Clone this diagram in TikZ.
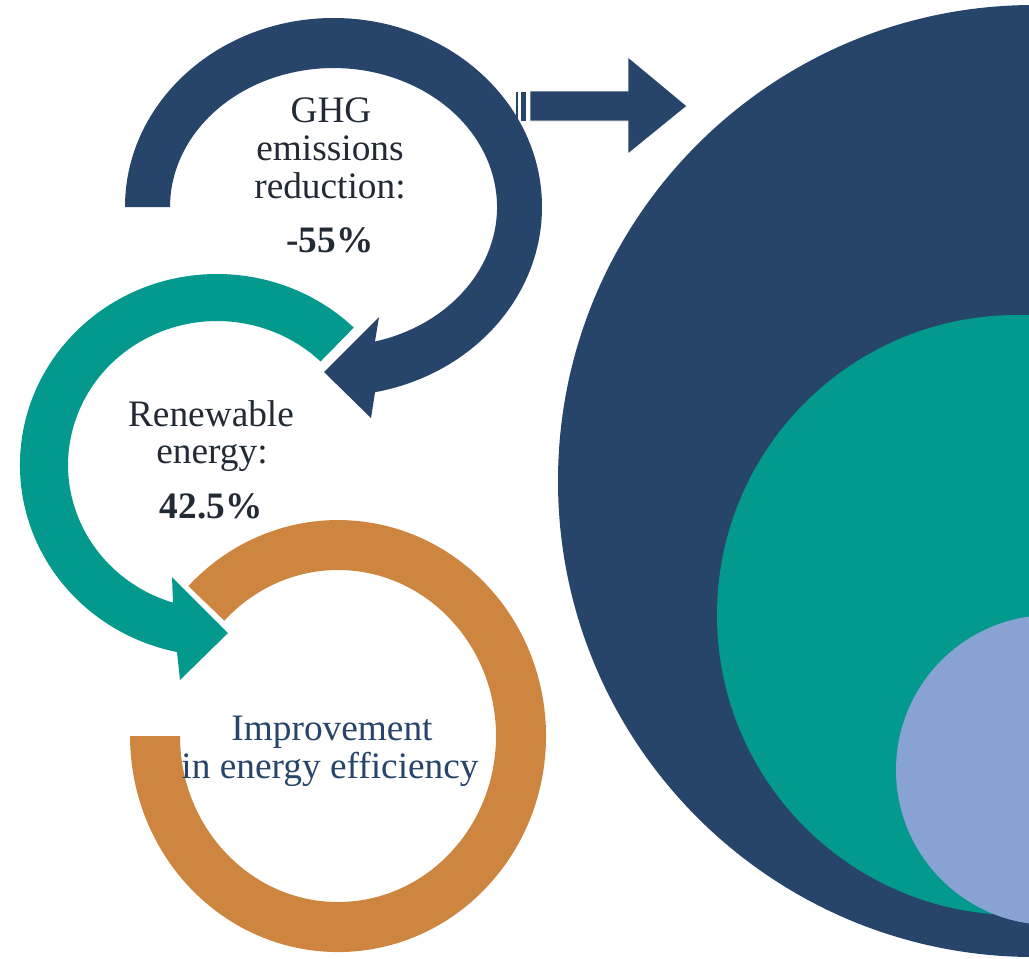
\documentclass[tikz,border=0pt]{standalone}
\usepackage{fontspec}
\setmainfont{Liberation Serif}
\definecolor{navy}{HTML}{27446A}
\definecolor{teal2}{HTML}{03998D}
\definecolor{ochre}{HTML}{CD853F}
\definecolor{sky}{HTML}{87A2D3}
\definecolor{ink}{HTML}{222A35}
\tikzset{
  lbl/.style={font=\fontsize{28}{34}\selectfont, text=ink, inner sep=0pt, anchor=base},
  lblb/.style={lbl, font=\fontsize{28}{34}\selectfont\bfseries},
  lbln/.style={lbl, text=navy},
  stripe/.style={fill=navy, draw=white, line width=0.6pt}
}
\begin{document}
\begin{tikzpicture}[x=0.75pt,y=-0.75pt]
\useasboundingbox (0,0) rectangle (1029,958);
\clip (0,0) rectangle (1029,958);
% concentric circles on the right
\fill[navy] (1034,481) circle[radius=476];
\fill[teal2] (1017,615) circle[radius=300];
\fill[sky] (1051,770) circle[radius=155];
% block arrow at top
\path[stripe] (515,91) rectangle (518,121);
\path[stripe] (520,91) rectangle (526,121);
\path[stripe] (530,91) -- (628,91) -- (628,57) -- (687,106) -- (628,154) -- (628,121) -- (530,121) -- cycle;
% dark circular arrow
\fill[navy] (125,207) arc[start angle=180, end angle=438.5, x radius=208.5, y radius=189]
  -- (371,418) -- (324,372) -- (379,317) -- (375,341.5)
  arc[start angle=435.3, end angle=180, x radius=163.5, y radius=139] -- cycle;
% teal circular arrow
\fill[teal2] (353.8,327.6) arc[start angle=314, end angle=101.7, x radius=197, y radius=191]
  -- (180,680) -- (228,633) -- (172,577) -- (173,602.6)
  arc[start angle=107.2, end angle=314, x radius=149, y radius=144] -- cycle;
% orange ring
\fill[ochre] (188.4,586) arc[start angle=224, end angle=540, x radius=208, y radius=216]
  -- (180,736) arc[start angle=540, end angle=224, x radius=158, y radius=166] -- cycle;
% labels
\node[lbl] (g1) at (331,122) {GHG};
\node[lbl] (g2) at (330,160) {emissions};
\node[lbl] (g3) at (330,198) {reduction:};
\node[lblb] (g4) at (330,252) {-55\%};
\node[lbl] (r1) at (211,426) {Renewable};
\node[lbl] (r2) at (212,463) {energy:};
\node[lblb] (r3) at (211,518) {42.5\%};
\node[lbln] (e1) at (332,740) {Improvement};
\node[lbln] (e2) at (330,778) {in energy efficiency};
\end{tikzpicture}
\end{document}
